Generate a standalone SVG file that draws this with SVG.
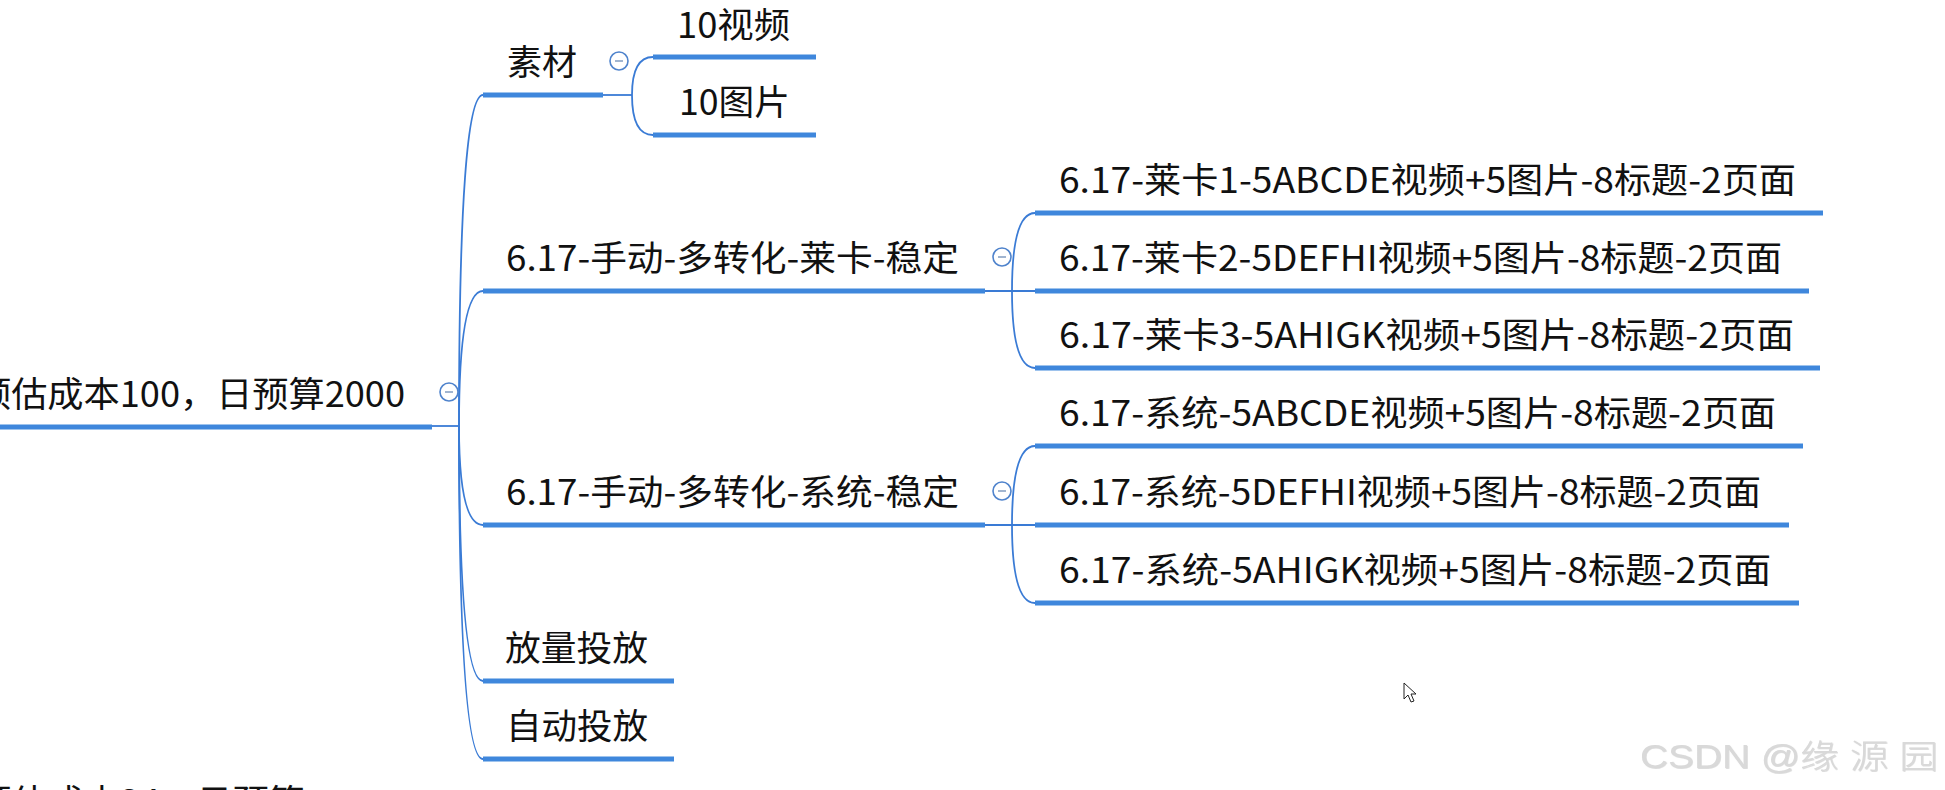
<svg xmlns="http://www.w3.org/2000/svg" width="1945" height="790" viewBox="0 0 1945 790">
<style>
.t{font-family:"Noto Sans CJK SC","Microsoft YaHei",sans-serif;font-size:35px;fill:#111}
.u{stroke:#3F87DC;stroke-width:5;fill:none}
.c{stroke:#3A7BD5;stroke-width:1.8;fill:none}
.btn circle{fill:#fff;stroke:#4F83CC;stroke-width:1.6}
.btn line{stroke:#8AA3C4;stroke-width:1.6}
.wm{font-family:"Liberation Sans","Noto Sans CJK SC",sans-serif;font-size:33px;font-weight:300;fill:#d9d9d9}
</style>
<defs>
<filter id="emb" x="-5%" y="-20%" width="110%" height="140%">
<feDropShadow dx="0.8" dy="0.8" stdDeviation="0.3" flood-color="#a8a8a8" flood-opacity="0.5"/>
</filter>
</defs>
<rect width="1945" height="790" fill="#fff"/>

<g id="connectors">
<path class="c" d="M432,426 H459"/>
<path class="c" d="M459,426 Q459,95 483,95"/>
<path class="c" d="M459,426 Q459,291 483,291"/>
<path class="c" d="M459,426 Q459,525 483,525"/>
<path class="c" d="M459,426 Q459,681 483,681"/>
<path class="c" d="M459,426 Q459,759 483,759"/>
<path class="c" d="M603,95 H632"/>
<path class="c" d="M632,95 Q632,57 653,57"/>
<path class="c" d="M632,95 Q632,135 653,135"/>
<path class="c" d="M985,291 H1035"/>
<path class="c" d="M1012,291 Q1012,213 1035,213"/>
<path class="c" d="M1012,291 Q1012,368 1035,368"/>
<path class="c" d="M985,525 H1035"/>
<path class="c" d="M1012,525 Q1012,446 1035,446"/>
<path class="c" d="M1012,525 Q1012,603 1035,603"/>
</g>

<g id="root">
<text class="t" x="405" y="407" text-anchor="end" textLength="430" lengthAdjust="spacingAndGlyphs">预估成本100，日预算2000</text>
<line class="u" x1="0" y1="427" x2="432" y2="427"/>
<g class="btn"><circle cx="449" cy="392" r="9"/><line x1="445" y1="392" x2="453" y2="392"/></g>
</g>

<g id="sucai">
<text class="t" x="507" y="75" textLength="70" lengthAdjust="spacingAndGlyphs">素材</text>
<line class="u" x1="483" y1="95" x2="603" y2="95"/>
<g class="btn"><circle cx="619" cy="61" r="9"/><line x1="615" y1="61" x2="623" y2="61"/></g>
</g>
<g id="video10">
<text class="t" x="677" y="38" textLength="113" lengthAdjust="spacingAndGlyphs">10视频</text>
<line class="u" x1="653" y1="57" x2="816" y2="57"/>
</g>
<g id="pic10">
<text class="t" x="679" y="115" textLength="111" lengthAdjust="spacingAndGlyphs">10图片</text>
<line class="u" x1="653" y1="135" x2="816" y2="135"/>
</g>

<g id="laika">
<text class="t" x="506" y="271" textLength="453" lengthAdjust="spacingAndGlyphs">6.17-手动-多转化-莱卡-稳定</text>
<line class="u" x1="483" y1="291" x2="985" y2="291"/>
<g class="btn"><circle cx="1002" cy="257" r="9"/><line x1="998" y1="257" x2="1006" y2="257"/></g>
</g>
<g id="laika1">
<text class="t" x="1059" y="193" textLength="737" lengthAdjust="spacingAndGlyphs">6.17-莱卡1-5ABCDE视频+5图片-8标题-2页面</text>
<line class="u" x1="1035" y1="213" x2="1823" y2="213"/>
</g>
<g id="laika2">
<text class="t" x="1059" y="271" textLength="723" lengthAdjust="spacingAndGlyphs">6.17-莱卡2-5DEFHI视频+5图片-8标题-2页面</text>
<line class="u" x1="1035" y1="291" x2="1809" y2="291"/>
</g>
<g id="laika3">
<text class="t" x="1059" y="348" textLength="735" lengthAdjust="spacingAndGlyphs">6.17-莱卡3-5AHIGK视频+5图片-8标题-2页面</text>
<line class="u" x1="1035" y1="368" x2="1820" y2="368"/>
</g>

<g id="xitong">
<text class="t" x="506" y="505" textLength="453" lengthAdjust="spacingAndGlyphs">6.17-手动-多转化-系统-稳定</text>
<line class="u" x1="483" y1="525" x2="985" y2="525"/>
<g class="btn"><circle cx="1002" cy="491" r="9"/><line x1="998" y1="491" x2="1006" y2="491"/></g>
</g>
<g id="xitong1">
<text class="t" x="1059" y="426" textLength="717" lengthAdjust="spacingAndGlyphs">6.17-系统-5ABCDE视频+5图片-8标题-2页面</text>
<line class="u" x1="1035" y1="446" x2="1803" y2="446"/>
</g>
<g id="xitong2">
<text class="t" x="1059" y="505" textLength="702" lengthAdjust="spacingAndGlyphs">6.17-系统-5DEFHI视频+5图片-8标题-2页面</text>
<line class="u" x1="1035" y1="525" x2="1789" y2="525"/>
</g>
<g id="xitong3">
<text class="t" x="1059" y="583" textLength="712" lengthAdjust="spacingAndGlyphs">6.17-系统-5AHIGK视频+5图片-8标题-2页面</text>
<line class="u" x1="1035" y1="603" x2="1799" y2="603"/>
</g>

<g id="fangliang">
<text class="t" x="505" y="661" textLength="143" lengthAdjust="spacingAndGlyphs">放量投放</text>
<line class="u" x1="483" y1="681" x2="674" y2="681"/>
</g>
<g id="zidong">
<text class="t" x="506" y="739" textLength="142" lengthAdjust="spacingAndGlyphs">自动投放</text>
<line class="u" x1="483" y1="759" x2="674" y2="759"/>
</g>

<g id="root2">
<text class="t" x="-25" y="815" textLength="330" lengthAdjust="spacingAndGlyphs">预估成本24，日预算</text>
</g>

<g id="cursor">
<path d="M1404,683 V699 L1408,695 L1411,702 L1414,701 L1411,694 L1416,694 Z" fill="#fff" stroke="#222" stroke-width="1"/>
</g>

<g id="watermark">
<text class="wm" x="1640" y="768" textLength="298" lengthAdjust="spacingAndGlyphs" filter="url(#emb)">CSDN @缘 源 园</text>
</g>
</svg>
